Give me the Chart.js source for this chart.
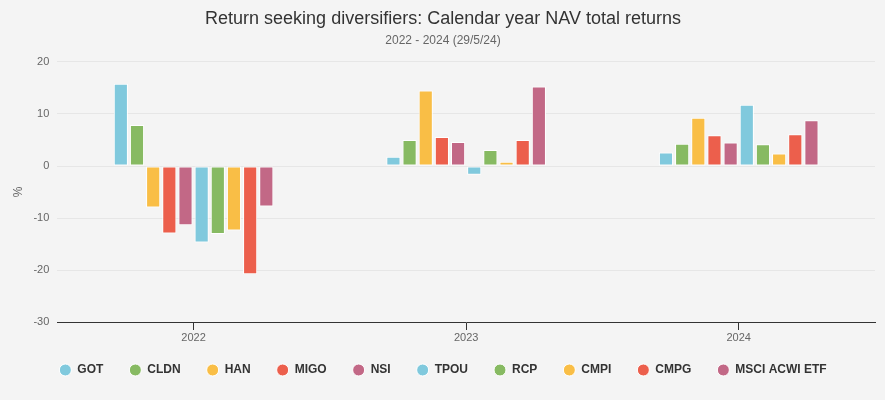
<!DOCTYPE html>
<html>
<head>
<meta charset="utf-8">
<script src="https://cdn.jsdelivr.net/npm/chart.js@4"></script>
<style>
  html, body { margin: 0; padding: 0; background: #f4f4f4; }
  #wrap { width: 885px; height: 400px; position: relative; }
</style>
</head>
<body>
<div id="wrap"><canvas id="chart"></canvas></div>
<script>
var years = ['2022', '2023', '2024'];
var names = ['GOT', 'CLDN', 'HAN', 'MIGO', 'NSI', 'TPOU', 'RCP', 'CMPI', 'CMPG', 'MSCI ACWI ETF'];

// one array per fund, values for 2022, 2023, 2024 (%)
var GOT = [15.8, 1.8, 2.6];
var CLDN = [7.9, 5.0, 4.3];
var HAN = [-8.0, 14.5, 9.3];
var MIGO = [-13.0, 5.6, 5.9];
var NSI = [-11.4, 4.6, 4.5];
var TPOU = [-14.7, -1.7, 11.8];
var RCP = [-13.1, 3.1, 4.2];
var CMPI = [-12.4, 0.8, 2.4];
var CMPG = [-20.8, 5.0, 6.1];
var MSCI = [-7.8, 15.3, 8.8];

var seriesValues = [GOT, CLDN, HAN, MIGO, NSI, TPOU, RCP, CMPI, CMPG, MSCI];
var yTicks = [-30, -20, -10, 0, 10, 20];

var palette = ['#80c9dd', '#87ba62', '#f9be46', '#ec5f4c', '#c26886'];
var fontFamily = "'Liberation Sans', Arial, Helvetica, sans-serif";

var datasets = names.map(function (name, i) {
    return {
        label: name,
        data: seriesValues[i],
        backgroundColor: palette[i % 5],
        borderColor: '#ffffff',
        borderWidth: 1,
        borderSkipped: false,
        categoryPercentage: 0.593,
        barPercentage: 0.875
    };
});

new Chart(document.getElementById('chart'), {
    type: 'bar',
    data: { labels: years, datasets: datasets },
    options: {
        responsive: true,
        maintainAspectRatio: false,
        animation: false,
        layout: { padding: { left: 11, right: 10, bottom: 14, top: 4 } },
        plugins: {
            title: {
                display: true,
                text: 'Return seeking diversifiers: Calendar year NAV total returns',
                color: '#333333',
                font: { size: 18, family: fontFamily, weight: 'normal' },
                padding: { top: 4, bottom: 4 }
            },
            subtitle: {
                display: true,
                text: '2022 - 2024 (29/5/24)',
                color: '#666666',
                font: { size: 12, family: fontFamily },
                padding: { bottom: 14 }
            },
            legend: {
                position: 'bottom',
                // empty title with negative padding: pulls the legend row up
                // so the wide item spacing doesn't push it too far down
                title: { display: true, text: '', padding: { top: 0, bottom: -21.6 } },
                labels: {
                    usePointStyle: true,
                    pointStyle: 'circle',
                    boxWidth: 12,
                    boxHeight: 8.5,
                    padding: 26,
                    color: '#333333',
                    font: { size: 12, family: fontFamily, weight: 'bold' }
                }
            },
            tooltip: { enabled: false }
        },
        scales: {
            x: {
                grid: {
                    display: true,
                    drawOnChartArea: false,
                    drawTicks: true,
                    tickLength: 8,
                    offset: false,
                    color: '#333333'
                },
                border: { display: true, color: '#333333', width: 1 },
                ticks: { color: '#666666', font: { size: 11, family: fontFamily }, padding: 1 }
            },
            y: {
                min: -30,
                max: 20,
                afterBuildTicks: function (axis) {
                    axis.ticks = yTicks.map(function (v) { return { value: v }; });
                },
                grid: { color: '#e6e6e6', drawTicks: false },
                border: { display: false },
                ticks: { color: '#666666', font: { size: 11, family: fontFamily }, padding: 8 },
                title: {
                    display: true,
                    text: '%',
                    color: '#666666',
                    font: { size: 12, family: fontFamily },
                    padding: { top: 0, bottom: 0 }
                }
            }
        }
    }
});
</script>
</body>
</html>
